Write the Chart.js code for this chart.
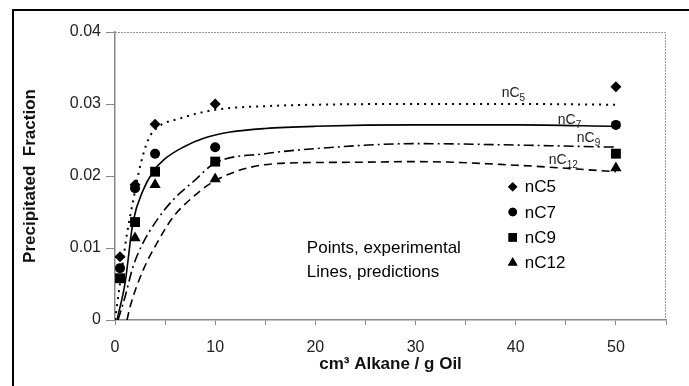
<!DOCTYPE html>
<html>
<head>
<meta charset="utf-8">
<script src="https://cdn.jsdelivr.net/npm/chart.js@4/dist/chart.umd.min.js"></script>
<style>
  html, body { margin: 0; padding: 0; background: #fff; }
  #wrap { width: 689px; height: 386px; }
</style>
</head>
<body>
<div id="wrap"><canvas id="chart" width="689" height="386"></canvas></div>
<script>
// experimental points (cm3 alkane / g oil vs precipitated fraction)
const seriesNames = ["nC5", "nC7", "nC9", "nC12"];
const expX5 = [0.5, 2, 4, 10, 50];
const expY5 = [0.0088, 0.0188, 0.0272, 0.0300, 0.0324];
const expX7 = [0.5, 2, 4, 10, 50];
const expY7 = [0.0072, 0.0183, 0.0231, 0.0240, 0.0271];
const expX9 = [0.5, 2, 4, 10, 50];
const expY9 = [0.0058, 0.0136, 0.0206, 0.0220, 0.0231];
const expX12 = [2, 4, 10, 50];
const expY12 = [0.0114, 0.0188, 0.0196, 0.0211];

// model predictions
const predX5 = [0, 0.5, 1.2, 1.8, 2.5, 3.3, 4.2, 6.5, 10, 15, 20, 30, 40, 50];
const predY5 = [0, 0.0051, 0.012, 0.0165, 0.0213, 0.0250, 0.0267, 0.0280, 0.0292, 0.0297, 0.0299, 0.0300, 0.0300, 0.0299];
const predX7 = [0.2, 1, 1.8, 2.8, 3.8, 5, 6.8, 9, 11.5, 15, 20, 30, 40, 50];
const predY7 = [0, 0.0051, 0.0136, 0.0180, 0.0206, 0.0224, 0.0240, 0.0253, 0.0261, 0.0266, 0.0269, 0.0271, 0.0271, 0.0269];
const predX9 = [0.3, 1, 1.8, 2.8, 4.2, 5.8, 7.8, 10, 15, 20, 30, 40, 50];
const predY9 = [0, 0.0032, 0.0074, 0.0107, 0.0139, 0.0167, 0.0192, 0.0218, 0.0231, 0.0238, 0.0245, 0.0243, 0.0240];
const predX12 = [1.2, 1.5, 2.8, 4.2, 5.8, 7.8, 9.8, 13.2, 17.2, 23.5, 30, 40, 50];
const predY12 = [0, 0.0018, 0.0069, 0.0107, 0.0143, 0.0171, 0.0192, 0.0211, 0.0218, 0.0219, 0.0220, 0.0215, 0.0206];

const xTicks = [0, 10, 20, 30, 40, 50];
const yTicks = [0, 0.01, 0.02, 0.03, 0.04];

const FONT = "'Liberation Sans', Arial, sans-serif";
const pts = (xs, ys) => xs.map((x, i) => ({ x: x, y: ys[i] }));

const markers = ["rectRot", "circle", "rect", "triangle"];
const markerSize = [5.5, 5, 7, 6.5];
const dashes = [[2, 5], [], [10, 4, 2, 4], [8, 5]];
const expSets = [[expX5, expY5], [expX7, expY7], [expX9, expY9], [expX12, expY12]];
const predSets = [[predX5, predY5], [predX7, predY7], [predX9, predY9], [predX12, predY12]];

const datasets = [];
expSets.forEach((s, i) => {
  datasets.push({
    label: seriesNames[i],
    data: pts(s[0], s[1]),
    pointStyle: markers[i],
    pointRadius: markerSize[i],
    pointBackgroundColor: "#000",
    pointBorderColor: "#000",
    pointBorderWidth: 0,
    showLine: false,
    order: 0
  });
});
predSets.forEach((s, i) => {
  datasets.push({
    label: seriesNames[i] + " prediction",
    data: pts(s[0], s[1]),
    showLine: true,
    pointRadius: 0,
    borderColor: "#000",
    borderWidth: i === 0 ? 2 : 1.6,
    borderDash: dashes[i],
    cubicInterpolationMode: "monotone",
    order: 1
  });
});

// curve labels (data coords), legend, frame
const curveLabels = [
  { base: "nC", sub: "5", x: 38.6, y: 0.0310 },
  { base: "nC", sub: "7", x: 44.2, y: 0.0272 },
  { base: "nC", sub: "9", x: 46.1, y: 0.0247 },
  { base: "nC", sub: "12", x: 43.3, y: 0.0217 }
];

const decorations = {
  id: "decorations",
  beforeDraw(chart) {
    const ctx = chart.ctx;
    ctx.save();
    ctx.fillStyle = "#fff";
    ctx.fillRect(0, 0, chart.width, chart.height);
    // outer frame
    ctx.strokeStyle = "#000";
    ctx.lineWidth = 2;
    ctx.beginPath();
    ctx.moveTo(13, chart.height);
    ctx.lineTo(13, 10);
    ctx.lineTo(chart.width, 10);
    ctx.stroke();
    ctx.restore();
  },
  beforeDatasetsDraw(chart) {
    const ctx = chart.ctx;
    const a = chart.chartArea;
    ctx.save();
    ctx.strokeStyle = "#999";
    ctx.lineWidth = 1;
    ctx.setLineDash([2, 1]);
    ctx.beginPath();
    ctx.moveTo(a.left, a.top + 0.5);
    ctx.lineTo(a.right - 0.5, a.top + 0.5);
    ctx.lineTo(a.right - 0.5, a.bottom);
    ctx.stroke();
    ctx.restore();
  },
  afterDatasetsDraw(chart) {
    const ctx = chart.ctx;
    const xs = chart.scales.x, ys = chart.scales.y;
    ctx.save();
    ctx.fillStyle = "#222";
    ctx.textBaseline = "alphabetic";
    ctx.textAlign = "left";
    curveLabels.forEach(l => {
      const px = xs.getPixelForValue(l.x), py = ys.getPixelForValue(l.y);
      ctx.font = "14px " + FONT;
      ctx.fillText(l.base, px, py);
      const w = ctx.measureText(l.base).width;
      ctx.font = "10px " + FONT;
      ctx.fillText(l.sub, px + w, py + 4);
    });

    // legend
    const lx = xs.getPixelForValue(39.7);
    const ly0 = ys.getPixelForValue(0.0185);
    ctx.font = "17px " + FONT;
    ctx.textBaseline = "middle";
    seriesNames.forEach((name, i) => {
      const y = ly0 + i * 25.3;
      Chart.helpers.drawPoint(ctx, {
        pointStyle: markers[i],
        radius: markerSize[i] * 0.85,
        rotation: 0,
        borderWidth: 0
      }, lx, y);
      ctx.fillStyle = "#000";
      ctx.fill();
      ctx.fillText(name, lx + 12, y + 1);
    });

    // note
    ctx.textBaseline = "alphabetic";
    ctx.font = "17px " + FONT;
    const nx = xs.getPixelForValue(19.15);
    ctx.fillText("Points, experimental", nx, ys.getPixelForValue(0.00931));
    ctx.fillText("Lines, predictions", nx, ys.getPixelForValue(0.00597));
    ctx.restore();
  }
};

new Chart(document.getElementById("chart"), {
  type: "scatter",
  data: { datasets: datasets },
  plugins: [decorations],
  options: {
    responsive: false,
    animation: false,
    layout: { padding: { top: 32, right: 23, left: 0, bottom: 0 } },
    plugins: { legend: { display: false }, tooltip: { enabled: false } },
    scales: {
      x: {
        type: "linear",
        min: 0,
        max: 55,
        afterFit: s => { s.height = 66; },
        afterBuildTicks: s => {
          s.ticks = [];
          for (let v = 0; v <= 55; v += 5) s.ticks.push({ value: v });
        },
        ticks: {
          padding: 13,
          color: "#222",
          font: { family: FONT, size: 16 },
          callback: v => (xTicks.includes(v) ? String(v) : "")
        },
        grid: { drawOnChartArea: false, tickLength: 5, color: "#888", tickColor: "#888" },
        border: { color: "#888", width: 1.5 },
        title: {
          display: true,
          text: "cm\u00b3 Alkane / g Oil",
          color: "#111",
          font: { family: FONT, size: 17, weight: "bold" },
          padding: { top: 0, bottom: 11 }
        }
      },
      y: {
        type: "linear",
        min: 0,
        max: 0.04,
        afterFit: s => { s.width = 115; },
        afterBuildTicks: s => { s.ticks = yTicks.map(v => ({ value: v })); },
        ticks: {
          padding: 5,
          color: "#222",
          font: { family: FONT, size: 16 },
          callback: v => (v === 0 ? "0" : v.toFixed(2))
        },
        grid: { drawOnChartArea: false, tickLength: 9, color: "#888", tickColor: "#888" },
        border: { color: "#888", width: 1.5 },
        title: {
          display: true,
          text: "Precipitated  Fraction",
          color: "#111",
          font: { family: FONT, size: 17, weight: "bold" },
          padding: { top: 20, bottom: 0 }
        }
      }
    }
  }
});
</script>
</body>
</html>
